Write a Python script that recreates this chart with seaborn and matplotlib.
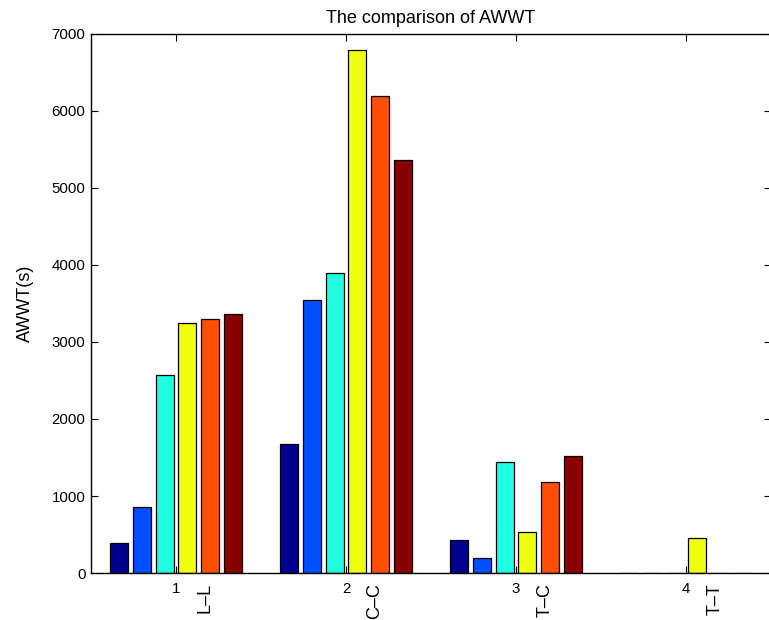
import matplotlib
matplotlib.use("Agg")
import matplotlib.pyplot as plt
import seaborn as sns
import pandas as pd

groups = ["1", "2", "3", "4"]
pair_labels = ["L\u2013L", "C\u2013C", "T\u2013C", "T\u2013T"]
series = ["S1", "S2", "S3", "S4", "S5", "S6"]
values = {
    "S1": [386, 1680, 435, 0],
    "S2": [853, 3540, 199, 0],
    "S3": [2565, 3890, 1437, 0],
    "S4": [3250, 6790, 528, 455],
    "S5": [3300, 6198, 1186, 0],
    "S6": [3365, 5358, 1524, 0],
}
colors = ["#00008F", "#0050FF", "#20FFDF", "#EFFF10", "#FF5000", "#8A0000"]
yticks = [0, 1000, 2000, 3000, 4000, 5000, 6000, 7000]

rows = []
for s in series:
    for g, v in zip(groups, values[s]):
        rows.append({"group": g, "series": s, "value": v})
df = pd.DataFrame(rows)

sns.set_style("white")
plt.rcParams["font.family"] = ["Liberation Sans", "DejaVu Sans"]
plt.rcParams["text.color"] = "black"
plt.rcParams["axes.labelcolor"] = "black"
plt.rcParams["xtick.color"] = "black"
plt.rcParams["ytick.color"] = "black"

fig = plt.figure(figsize=(7.69, 6.20), dpi=100)
ax = fig.add_axes([0.1183, 0.0758, 0.8843, 0.8694])

sns.barplot(data=df, x="group", y="value", hue="series", order=groups,
            hue_order=series, palette=colors, width=0.8, gap=0.2,
            edgecolor="black", linewidth=0.9, legend=False, ax=ax,
            errorbar=None, saturation=1)

ax.set_xlim(-0.5, 3.5)
ax.set_ylim(0, 7000)
ax.set_yticks(yticks)
ax.set_yticklabels([str(t) for t in yticks], fontsize=10.8)
ax.set_xticks(range(len(groups)))
ax.set_xticklabels(groups, fontsize=10.8)
ax.set_xlabel("")
ax.set_ylabel("AWWT(s)", fontsize=13, labelpad=13, color="black")
ax.set_title("The comparison of AWWT", fontsize=13, pad=8, color="black")

for sp in ax.spines.values():
    sp.set_visible(True)
    sp.set_color("black")
    sp.set_linewidth(1.0)

ax.tick_params(axis="y", direction="in", length=5, width=0.8,
               left=True, right=True, pad=4, colors="black")
ax.tick_params(axis="x", direction="in", length=5, width=0.8,
               top=True, bottom=True, pad=6.5, colors="black")

for i, lab in enumerate(pair_labels):
    ax.annotate(lab, xy=(i + 0.17, 0), xycoords=("data", "data"),
                xytext=(0, -7), textcoords="offset points",
                rotation=90, ha="center", va="top", fontsize=13,
                color="black")

fig.savefig("out.png", dpi=100)
